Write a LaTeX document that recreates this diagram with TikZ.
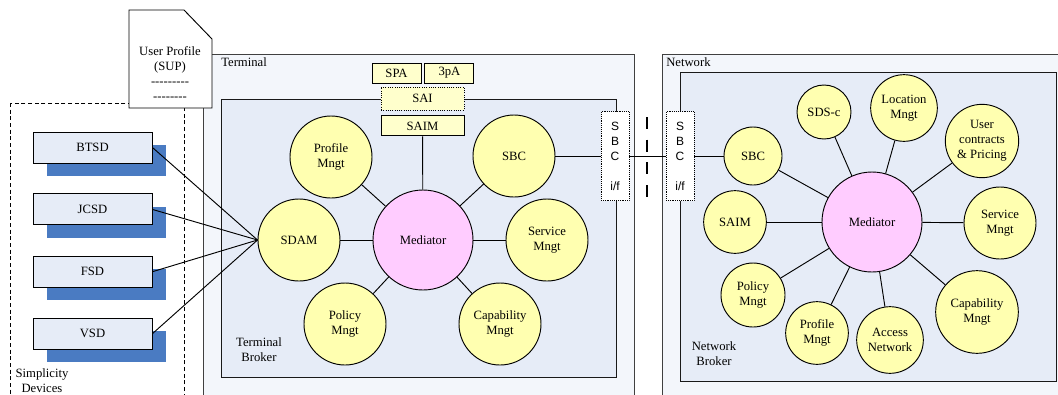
\documentclass[tikz,border=0pt]{standalone}
\usepackage{fontspec}
\setmainfont{Liberation Serif}
\newfontfamily\ifacefont{Liberation Sans}
\usepackage{xcolor}
\usetikzlibrary{positioning,shadows}
\definecolor{outerfill}{HTML}{F3F6FB}
\definecolor{brokerfill}{HTML}{E6ECF7}
\definecolor{funcyellow}{HTML}{FFFFB0}
\definecolor{medpink}{HTML}{FFCCFF}
\definecolor{tagyellow}{HTML}{FFFFCC}
\definecolor{shadowblue}{HTML}{4A7BC2}
\newcommand{\fsz}{\fontsize{9.5}{11.25}\selectfont}
\tikzset{
  func/.style={draw, circle, fill=funcyellow, inner sep=0pt, align=center,
               font=\fsz, line width=0.7pt},
  hub/.style={func, fill=medpink, minimum size=75pt},
  tag/.style={draw, fill=tagyellow, inner sep=0pt, minimum width=36.75pt,
              minimum height=15pt, font=\fsz, line width=0.7pt},
  device/.style={draw, fill=brokerfill, minimum width=89.25pt, minimum height=23.25pt,
                 font=\fsz, line width=0.7pt,
                 general shadow={fill=shadowblue, shadow xshift=10.5pt, shadow yshift=-9.75pt}},
  iface/.style={draw, densely dotted, fill=white, inner sep=0pt, minimum width=21pt,
                minimum height=66.75pt, align=center,
                font=\ifacefont\fontsize{9}{11.25}\selectfont},
  region/.style={draw=black!75, fill=outerfill, line width=0.6pt},
  broker/.style={draw=black!90, fill=brokerfill, line width=0.7pt},
  caption/.style={align=center, font=\fsz, inner sep=0pt},
  link/.style={line width=0.7pt},
}

\begin{document}
\begin{tikzpicture}[x=0.75pt, y=-0.75pt]
  \clip (0,0) rectangle (1058,394);
  % areas
  \draw[dash pattern=on 3pt off 2pt, line width=0.7pt] (10,103) rectangle (184,420);
  \draw[region] (203,54) rectangle (634,420);
  \draw[broker] (221,99) rectangle (616,377);
  \draw[region] (662,54) rectangle (1070,420);
  \draw[broker] (680,72) rectangle (1056,381);
  \node[caption, anchor=west] at (221,62) {Terminal};
  \node[caption, anchor=west] at (666,62) {Network};
  \node[caption] at (259,350) {Terminal\\Broker};
  \node[caption] at (714,354) {Network\\Broker};
  \node[caption] at (42,381) {Simplicity\\Devices};

  % user profile
  \draw[fill=white, line width=0.7pt] (129,108) -- (129,10) -- (184,10) -- (212,39) -- (212,108) -- cycle;
  \node[caption] (sup) at (170,73.5) {User Profile\\(SUP)\\-{}-{}-{}-{}-{}-{}-{}-{}-\\-{}-{}-{}-{}-{}-{}-{}-};

  % devices
  \node[device] (btsd) at (92.5,147.5) {BTSD};
  \node[device, below=22.5pt of btsd] (jcsd) {JCSD};
  \node[device, below=22.75pt of jcsd] (fsd) {FSD};
  \node[device, below=22.5pt of fsd] (vsd) {VSD};

  % terminal broker
  \node[tag] (spa) at (396.5,73) {SPA};
  \node[tag, right=2.25pt of spa] (tpa) {3pA};
  \node[tag, densely dotted, minimum width=62.25pt, minimum height=17.25pt] (sai) at (422.5,98.5) {SAI};
  \node[tag, minimum width=62.25pt, below=3.75pt of sai] (tsaim) {SAIM};
  \node[hub] (tmed) at (423,240) {Mediator};
  \node[func, minimum size=61.5pt] (tprof) at (331,157) {Profile\\Mngt};
  \node[func, minimum size=61.5pt] (tsbc) at (514,156) {SBC};
  \node[func, minimum size=61.5pt] (tsdam) at (299,240) {SDAM};
  \node[func, minimum size=61.5pt] (tserv) at (547,240) {Service\\Mngt};
  \node[func, minimum size=61.5pt] (tpol) at (345,324) {Policy\\Mngt};
  \node[func, minimum size=61.5pt] (tcap) at (500,324) {Capability\\Mngt};
  \foreach \n in {tsaim,tprof,tsbc,tsdam,tserv,tpol,tcap}
    \draw[link] (tmed) -- (\n);
  \foreach \d in {btsd,jcsd,fsd,vsd}
    \draw[link] (\d.east) -- (tsdam.west);

  % interfaces
  \node[iface] (tif) at (615,156) {S\\B\\C\\[11.25pt]i/f};
  \node[iface] (nif) at (680,156) {S\\B\\C\\[11.25pt]i/f};
  \draw[line width=1.6pt, dash pattern=on 9pt off 8pt] (647,117) -- (647,197);

  % network broker
  \node[hub] (nmed) at (872,222) {Mediator};
  \node[func, minimum size=43.5pt] (nsbc) at (753,156) {SBC};
  \node[func, minimum size=40.5pt] (nsds) at (824,112) {SDS-c};
  \node[func, minimum size=50pt] (nloc) at (904,108) {Location\\Mngt};
  \node[func, minimum size=55pt] (nuser) at (982,141) {User\\contracts\\\& Pricing};
  \node[func, minimum size=47pt] (nsaim) at (735,222) {SAIM};
  \node[func, minimum size=54pt] (nserv) at (1000,223) {Service\\Mngt};
  \node[func, minimum size=48pt] (npol) at (753,295) {Policy\\Mngt};
  \node[func, minimum size=47pt] (nprof) at (817,333) {Profile\\Mngt};
  \node[func, minimum size=50pt] (nacc) at (890,340) {Access\\Network};
  \node[func, minimum size=62pt] (ncap) at (977,312) {Capability\\Mngt};
  \foreach \n in {nsbc,nsds,nloc,nuser,nsaim,nserv,npol,nprof,nacc,ncap}
    \draw[link] (nmed) -- (\n);

  \draw[link] (tsbc) -- (tif);
  \draw[link] (tif) -- (nif);
  \draw[link] (nif) -- (nsbc);
\end{tikzpicture}
\end{document}
